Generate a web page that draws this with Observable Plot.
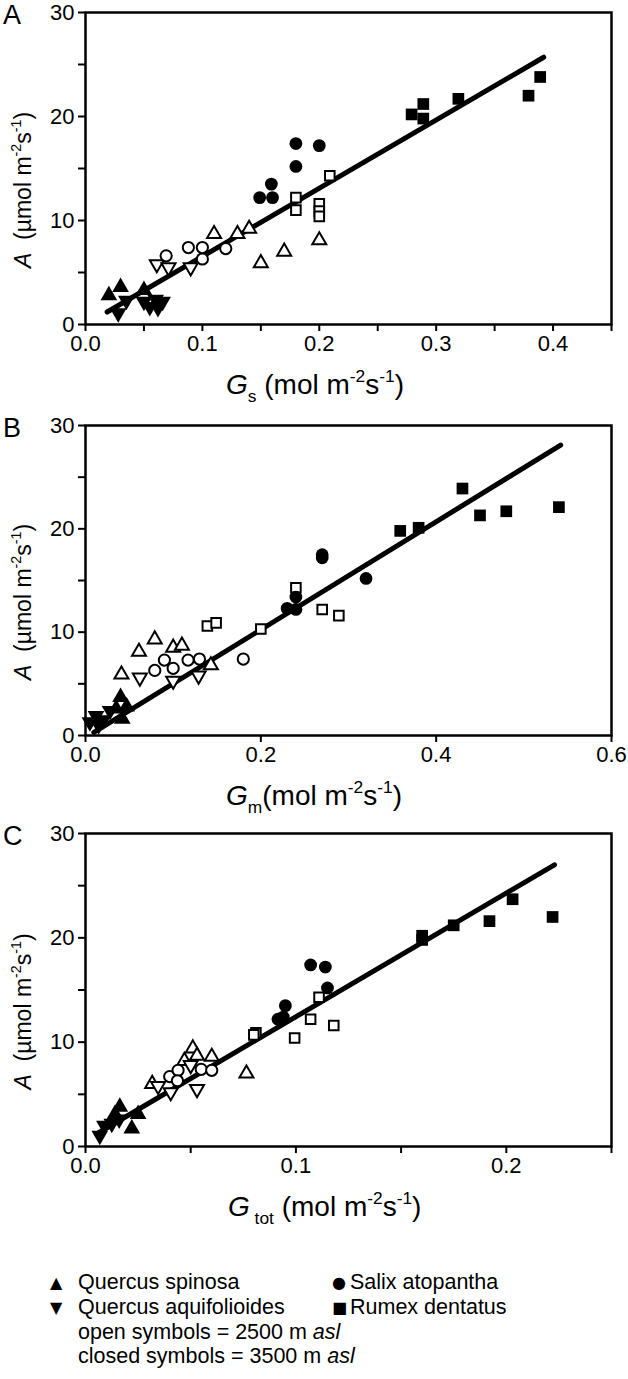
<!DOCTYPE html>
<html>
<head>
<meta charset="utf-8">
<script src="https://cdn.jsdelivr.net/npm/d3@7"></script>
<script src="https://cdn.jsdelivr.net/npm/@observablehq/plot@0.6"></script>
<style>
  body { margin: 0; background: white; }
  #root { position: relative; width: 628px; height: 1379px; font-family: "Liberation Sans", Arial, sans-serif; overflow: hidden; }
  .leg { position: absolute; font-size: 21.5px; line-height: 25px; white-space: pre; color: black; }
  .sym { position: absolute; font-family: "DejaVu Sans", sans-serif; font-size: 16px; line-height: 25px; color: black; }
</style>
</head>
<body>
<div id="root"></div>
<script>
// ---------- Data ----------
// Panel A : A vs Gs
const A_spinosa_closed = [[0.02,2.8],[0.03,3.6],[0.05,3.3]];
const A_spinosa_open = [[0.11,8.7],[0.13,8.7],[0.14,9.2],[0.15,5.9],[0.17,7.0],[0.2,8.1]];
const A_aquifol_closed = [[0.028,1.1],[0.035,2.3],[0.05,2.2],[0.055,1.7],[0.06,2.4],[0.062,1.6],[0.066,2.2]];
const A_aquifol_open = [[0.061,5.8],[0.071,5.5],[0.09,5.5]];
const A_salix_open = [[0.069,6.6],[0.088,7.4],[0.1,7.4],[0.1,6.3],[0.12,7.3]];
const A_salix_closed = [[0.18,17.4],[0.2,17.2],[0.18,15.2],[0.159,13.5],[0.149,12.2],[0.16,12.2]];
const A_rumex_open = [[0.209,14.3],[0.18,12.2],[0.18,11.0],[0.2,11.6],[0.2,10.9],[0.2,10.4]];
const A_rumex_closed = [[0.289,21.2],[0.279,20.2],[0.289,19.8],[0.319,21.7],[0.379,22.0],[0.389,23.8]];
const A_fit_x = [0.0185, 0.392];
const A_fit_y = [1.2, 25.7];

// Panel B : A vs Gm
const B_spinosa_closed = [[0.04,3.7],[0.047,2.8],[0.042,1.6],[0.035,2.6]];
const B_spinosa_open = [[0.079,9.3],[0.061,8.1],[0.041,5.9],[0.1,8.5],[0.11,8.7],[0.143,6.8]];
const B_aquifol_closed = [[0.005,1.3],[0.012,1.9],[0.02,1.5],[0.028,2.4],[0.015,1.0]];
const B_aquifol_open = [[0.062,5.6],[0.1,5.3],[0.129,5.8]];
const B_salix_open = [[0.079,6.3],[0.09,7.3],[0.1,6.5],[0.117,7.3],[0.13,7.4],[0.18,7.4]];
const B_salix_closed = [[0.27,17.5],[0.27,17.2],[0.32,15.2],[0.24,13.4],[0.23,12.3],[0.24,12.2]];
const B_rumex_open = [[0.24,14.3],[0.27,12.2],[0.289,11.6],[0.2,10.3],[0.139,10.6],[0.149,10.9]];
const B_rumex_closed = [[0.43,23.9],[0.359,19.8],[0.38,20.1],[0.45,21.3],[0.48,21.7],[0.54,22.1]];
const B_fit_x = [0.0095, 0.542];
const B_fit_y = [0.3, 28.1];

// Panel C : A vs Gtot
const C_spinosa_closed = [[0.0163,3.8],[0.025,3.1],[0.022,1.7],[0.014,3.1]];
const C_spinosa_open = [[0.051,9.4],[0.06,8.6],[0.047,8.2],[0.0317,6.0],[0.0765,7.0],[0.053,8.7]];
const C_aquifol_closed = [[0.0068,1.05],[0.009,2.0],[0.0125,2.2],[0.016,2.6]];
const C_aquifol_open = [[0.0345,5.8],[0.0405,5.2],[0.053,5.5],[0.05,7.8]];
const C_salix_open = [[0.04,6.7],[0.044,7.3],[0.0437,6.3],[0.055,7.4],[0.06,7.3]];
const C_salix_closed = [[0.107,17.4],[0.114,17.2],[0.115,15.2],[0.095,13.5],[0.0915,12.2],[0.094,12.4]];
const C_rumex_open = [[0.111,14.3],[0.107,12.2],[0.118,11.6],[0.0994,10.4],[0.081,10.9],[0.08,10.7]];
const C_rumex_closed = [[0.16,19.8],[0.16,20.2],[0.175,21.2],[0.192,21.6],[0.203,23.7],[0.222,22.0]];
const C_fit_x = [0.0052, 0.2229];
const C_fit_y = [1.2, 27.0];

// Axis ticks
const yTicks = [0, 5, 10, 15, 20, 25, 30];
const yLabelTicks = [0, 10, 20, 30];
const A_xTicks = [0, 0.05, 0.1, 0.15, 0.2, 0.25, 0.3, 0.35, 0.4, 0.45];
const A_xLabelTicks = [0, 0.1, 0.2, 0.3, 0.4];
const B_xTicks = [0, 0.2, 0.4, 0.6];
const B_xLabelTicks = [0, 0.2, 0.4, 0.6];
const C_xTicks = [0, 0.05, 0.1, 0.15, 0.2, 0.25];
const C_xLabelTicks = [0, 0.1, 0.2];

// Legend
const legendSpecies = ["Quercus spinosa", "Quercus aquifolioides", "Salix atopantha", "Rumex dentatus"];
const legendSymbols = ["▲", "▼", "●", "■"];
const legendNotes = ["open symbols = 2500 m ", "closed symbols = 3500 m "];

// ---------- Drawing ----------
const FONT = '"Liberation Sans", Arial, sans-serif';
const triangleDown = {
  draw(context, size) {
    const y = -Math.sqrt(size / (Math.sqrt(3) * 3));
    context.moveTo(0, -y * 2);
    context.lineTo(-Math.sqrt(3) * y, y);
    context.lineTo(Math.sqrt(3) * y, y);
    context.closePath();
  }
};
const toObj = arr => arr.map(([x, y]) => ({x, y}));
const fmt1 = d3.format(".1f");

function addRich(g, parts, {x = 0, y = 0, anchor = "start", transform = null, size = 21}) {
  const t = g.append("text")
    .attr("x", x).attr("y", y)
    .attr("text-anchor", anchor)
    .attr("font-size", size)
    .attr("font-family", FONT)
    .attr("fill", "black")
    .style("white-space", "pre");
  if (transform) t.attr("transform", transform);
  let cur = 0;
  for (const p of parts) {
    const target = p.sup ? -0.42 * size : p.sub ? 0.3 * size : 0;
    const ts = t.append("tspan").text(p.t).attr("dy", target - cur);
    if (p.sup || p.sub) ts.attr("font-size", size * 0.62);
    if (p.i) ts.attr("font-style", "italic");
    cur = target;
  }
  return t;
}

function panel(cfg) {
  const s = cfg.series;
  const marks = [
    Plot.line(cfg.fitX.map((x, i) => ({x, y: cfg.fitY[i]})), {x: "x", y: "y", stroke: "black", strokeWidth: 5}),
    // open symbols (2500 m)
    Plot.dot(toObj(s.spinosaOpen), {x: "x", y: "y", symbol: "triangle", r: 5.2, fill: "white", stroke: "black", strokeWidth: 2}),
    Plot.dot(toObj(s.aquifolOpen), {x: "x", y: "y", symbol: triangleDown, r: 5.2, fill: "white", stroke: "black", strokeWidth: 2}),
    Plot.dot(toObj(s.salixOpen), {x: "x", y: "y", symbol: "circle", r: 5.6, fill: "white", stroke: "black", strokeWidth: 2}),
    Plot.dot(toObj(s.rumexOpen), {x: "x", y: "y", symbol: "square", r: 5.4, fill: "white", stroke: "black", strokeWidth: 2}),
    // closed symbols (3500 m)
    Plot.dot(toObj(s.spinosaClosed), {x: "x", y: "y", symbol: "triangle", r: 6.2, fill: "black", stroke: "none"}),
    Plot.dot(toObj(s.aquifolClosed), {x: "x", y: "y", symbol: triangleDown, r: 6.2, fill: "black", stroke: "none"}),
    Plot.dot(toObj(s.salixClosed), {x: "x", y: "y", symbol: "circle", r: 6.4, fill: "black", stroke: "none"}),
    Plot.dot(toObj(s.rumexClosed), {x: "x", y: "y", symbol: "square", r: 6.6, fill: "black", stroke: "none"}),
    Plot.axisX({ticks: cfg.xTicks, tickSize: 7, tickPadding: 4, strokeWidth: 2, fontSize: 22,
      tickFormat: d => cfg.xLabelTicks.some(v => Math.abs(v - d) < 1e-9) ? fmt1(d) : "", label: null}),
    Plot.axisY({ticks: yTicks, tickSize: 7, tickPadding: 4, strokeWidth: 2, fontSize: 22,
      tickFormat: d => yLabelTicks.includes(d) ? String(d) : "", label: null}),
    Plot.frame({stroke: "black", strokeWidth: 2.5})
  ];
  const svg = Plot.plot({
    width: 628,
    height: cfg.height,
    marginLeft: 85,
    marginRight: 17,
    marginTop: cfg.marginTop,
    marginBottom: cfg.marginBottom,
    x: {domain: cfg.xDomain},
    y: {domain: [0, 30]},
    style: {display: "block", fontFamily: FONT, fontSize: "22px", background: "white", overflow: "visible", color: "black"},
    marks
  });
  const g = d3.select(svg);
  // panel letter
  g.append("text").attr("x", 3).attr("y", cfg.marginTop + 12).attr("font-size", 27)
    .attr("text-anchor", "start").attr("font-family", FONT).attr("fill", "black").text(cfg.letter);
  // y title
  const plotH = cfg.height - cfg.marginTop - cfg.marginBottom;
  const cy = cfg.marginTop + plotH / 2 + 22;
  addRich(g, [{t: "A", i: true}, {t: "  (µmol m"}, {t: "-2", sup: true}, {t: "s"}, {t: "-1", sup: true}, {t: ")"}],
    {x: 0, y: 0, anchor: "middle", transform: `translate(31,${cy}) rotate(-90)`, size: 23});
  // x title
  addRich(g, cfg.xTitle, {x: cfg.xTitleX, y: cfg.xTitleY, anchor: "start", size: 28});
  return svg;
}

const root = document.getElementById("root");

root.appendChild(panel({
  letter: "A", height: 413, marginTop: 12, marginBottom: 89,
  xDomain: [0, 0.45], xTicks: A_xTicks, xLabelTicks: A_xLabelTicks,
  fitX: A_fit_x, fitY: A_fit_y,
  series: {spinosaClosed: A_spinosa_closed, spinosaOpen: A_spinosa_open, aquifolClosed: A_aquifol_closed,
    aquifolOpen: A_aquifol_open, salixOpen: A_salix_open, salixClosed: A_salix_closed,
    rumexOpen: A_rumex_open, rumexClosed: A_rumex_closed},
  xTitle: [{t: "G", i: true}, {t: "s", sub: true}, {t: " (mol m"}, {t: "-2", sup: true}, {t: "s"}, {t: "-1", sup: true}, {t: ")"}],
  xTitleX: 226, xTitleY: 394
}));

root.appendChild(panel({
  letter: "B", height: 408, marginTop: 12, marginBottom: 86,
  xDomain: [0, 0.6], xTicks: B_xTicks, xLabelTicks: B_xLabelTicks,
  fitX: B_fit_x, fitY: B_fit_y,
  series: {spinosaClosed: B_spinosa_closed, spinosaOpen: B_spinosa_open, aquifolClosed: B_aquifol_closed,
    aquifolOpen: B_aquifol_open, salixOpen: B_salix_open, salixClosed: B_salix_closed,
    rumexOpen: B_rumex_open, rumexClosed: B_rumex_closed},
  xTitle: [{t: "G", i: true}, {t: "m", sub: true}, {t: "(mol m"}, {t: "-2", sup: true}, {t: "s"}, {t: "-1", sup: true}, {t: ")"}],
  xTitleX: 226, xTitleY: 392
}));

root.appendChild(panel({
  letter: "C", height: 405, marginTop: 12, marginBottom: 80,
  xDomain: [0, 0.25], xTicks: C_xTicks, xLabelTicks: C_xLabelTicks,
  fitX: C_fit_x, fitY: C_fit_y,
  series: {spinosaClosed: C_spinosa_closed, spinosaOpen: C_spinosa_open, aquifolClosed: C_aquifol_closed,
    aquifolOpen: C_aquifol_open, salixOpen: C_salix_open, salixClosed: C_salix_closed,
    rumexOpen: C_rumex_open, rumexClosed: C_rumex_closed},
  xTitle: [{t: "G", i: true}, {t: " tot", sub: true}, {t: " (mol m"}, {t: "-2", sup: true}, {t: "s"}, {t: "-1", sup: true}, {t: ")"}],
  xTitleX: 228, xTitleY: 395
}));

// Legend (HTML, below the SVGs)
const rows = [1270, 1295, 1320, 1344];
function addDiv(cls, text, left, top, html) {
  const d = document.createElement("div");
  d.className = cls;
  d.style.left = left + "px";
  d.style.top = top + "px";
  if (html) d.innerHTML = html; else d.textContent = text;
  root.appendChild(d);
}
addDiv("sym", legendSymbols[0], 50, rows[0]);
addDiv("leg", legendSpecies[0], 78, rows[0]);
addDiv("sym", legendSymbols[1], 50, rows[1]);
addDiv("leg", legendSpecies[1], 78, rows[1]);
addDiv("sym", legendSymbols[2], 332, rows[0]);
addDiv("leg", legendSpecies[2], 350, rows[0]);
addDiv("sym", legendSymbols[3], 332, rows[1]);
addDiv("leg", legendSpecies[3], 350, rows[1]);
addDiv("leg", null, 78, rows[2], legendNotes[0] + "<i>asl</i>");
addDiv("leg", null, 78, rows[3], legendNotes[1] + "<i>asl</i>");
</script>
</body>
</html>
